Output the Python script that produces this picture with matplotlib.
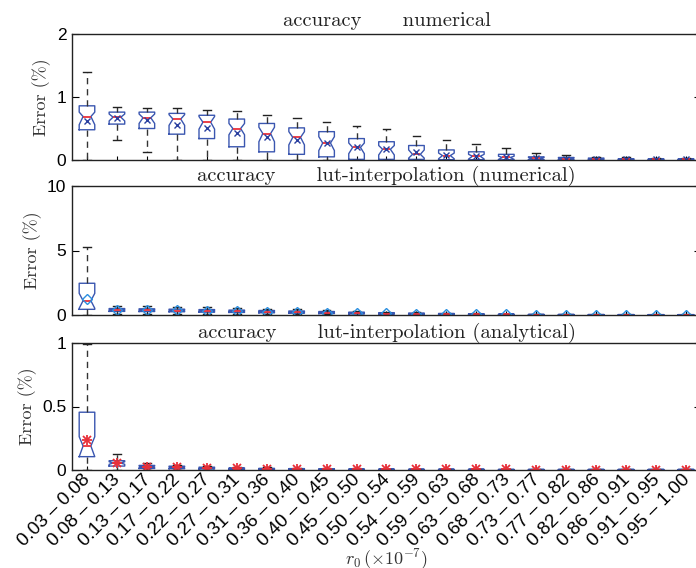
import numpy as np
import matplotlib
matplotlib.use('Agg')
import matplotlib.pyplot as plt
import matplotlib.transforms as mtrans

plt.rcParams['font.family'] = ['Liberation Sans', 'DejaVu Sans']
plt.rcParams['mathtext.fontset'] = 'cm'

# r0 bins (x 1e-7)
bins = ['0.03 – 0.08', '0.08 – 0.13', '0.13 – 0.17', '0.17 – 0.22', '0.22 – 0.27',
        '0.27 – 0.31', '0.31 – 0.36', '0.36 – 0.40', '0.40 – 0.45', '0.45 – 0.50',
        '0.50 – 0.54', '0.54 – 0.59', '0.59 – 0.63', '0.63 – 0.68', '0.68 – 0.73',
        '0.73 – 0.77', '0.77 – 0.82', '0.82 – 0.86', '0.86 – 0.91', '0.91 – 0.95',
        '0.95 – 1.00']

#### accuracy numerical
med_num = [0.69, 0.68, 0.67, 0.65, 0.60, 0.50, 0.42, 0.36, 0.27, 0.20, 0.17,
           0.09, 0.07, 0.06, 0.04, 0.025, 0.02, 0.015, 0.01, 0.008, 0.008]
q1_num = [0.48, 0.57, 0.50, 0.41, 0.34, 0.21, 0.13, 0.09, 0.05, 0.01, 0.01,
          0.01, 0.005, 0.005, 0.003, 0.003, 0.002, 0.002, 0.001, 0.001, 0.001]
q3_num = [0.86, 0.76, 0.76, 0.74, 0.71, 0.65, 0.58, 0.51, 0.45, 0.34, 0.29,
          0.23, 0.16, 0.13, 0.09, 0.05, 0.04, 0.03, 0.02, 0.018, 0.018]
lo_num = [0.0, 0.32, 0.13, 0.0, 0.0, 0.0, 0.0, 0.0, 0.0, 0.0, 0.0,
          0.0, 0.0, 0.0, 0.0, 0.0, 0.0, 0.0, 0.0, 0.0, 0.0]
hi_num = [1.40, 0.84, 0.82, 0.82, 0.80, 0.77, 0.71, 0.66, 0.60, 0.54, 0.50,
          0.38, 0.31, 0.25, 0.19, 0.11, 0.075, 0.05, 0.04, 0.03, 0.03]
cilo_num = [0.56, 0.62, 0.58, 0.55, 0.49, 0.40, 0.29, 0.24, 0.15, 0.10, 0.08,
            0.03, 0.02, 0.015, 0.01, 0.008, 0.006, 0.005, 0.003, 0.003, 0.003]
cihi_num = [0.76, 0.73, 0.73, 0.72, 0.69, 0.58, 0.52, 0.45, 0.37, 0.27, 0.23,
            0.16, 0.11, 0.09, 0.06, 0.04, 0.03, 0.023, 0.015, 0.013, 0.013]
mean_num = [0.62, 0.67, 0.64, 0.56, 0.51, 0.43, 0.37, 0.32, 0.27, 0.21, 0.17,
            0.12, 0.08, 0.06, 0.04, 0.025, 0.02, 0.015, 0.01, 0.008, 0.008]

#### accuracy lut-interpolation (numerical)
med_lutn = [1.11, 0.38, 0.36, 0.34, 0.31, 0.28, 0.25, 0.22, 0.18, 0.14, 0.11,
            0.09, 0.07, 0.05, 0.04, 0.03, 0.03, 0.02, 0.02, 0.02, 0.02]
q1_lutn = [0.44, 0.28, 0.27, 0.25, 0.22, 0.20, 0.17, 0.14, 0.11, 0.08, 0.06,
           0.05, 0.04, 0.03, 0.02, 0.015, 0.01, 0.01, 0.01, 0.01, 0.01]
q3_lutn = [2.46, 0.50, 0.48, 0.45, 0.42, 0.38, 0.35, 0.31, 0.27, 0.22, 0.18,
           0.15, 0.12, 0.09, 0.07, 0.05, 0.045, 0.04, 0.035, 0.03, 0.03]
lo_lutn = [0.0, 0.10, 0.10, 0.09, 0.08, 0.07, 0.06, 0.05, 0.04, 0.03, 0.02,
           0.02, 0.01, 0.01, 0.01, 0.0, 0.0, 0.0, 0.0, 0.0, 0.0]
hi_lutn = [5.3, 0.70, 0.68, 0.64, 0.60, 0.55, 0.50, 0.45, 0.40, 0.33, 0.27,
           0.22, 0.18, 0.14, 0.11, 0.08, 0.07, 0.06, 0.05, 0.05, 0.05]
cilo_lutn = [0.52, 0.34, 0.32, 0.30, 0.27, 0.25, 0.22, 0.19, 0.15, 0.12, 0.09,
             0.07, 0.06, 0.04, 0.03, 0.025, 0.02, 0.015, 0.015, 0.015, 0.015]
cihi_lutn = [1.68, 0.42, 0.40, 0.38, 0.35, 0.31, 0.28, 0.25, 0.21, 0.17, 0.13,
             0.11, 0.09, 0.065, 0.05, 0.038, 0.037, 0.028, 0.025, 0.025, 0.025]
mean_lutn = [1.22, 0.39, 0.37, 0.35, 0.32, 0.29, 0.26, 0.22, 0.19, 0.15, 0.12,
             0.09, 0.07, 0.05, 0.04, 0.03, 0.03, 0.02, 0.02, 0.02, 0.02]

#### accuracy lut-interpolation (analytical)
med_luta = [0.189, 0.055, 0.025, 0.020, 0.015, 0.010, 0.008, 0.007, 0.006, 0.005, 0.005,
            0.004, 0.004, 0.004, 0.003, 0.003, 0.003, 0.003, 0.003, 0.003, 0.003]
q1_luta = [0.105, 0.031, 0.012, 0.010, 0.008, 0.005, 0.004, 0.003, 0.003, 0.002, 0.002,
           0.002, 0.002, 0.002, 0.001, 0.001, 0.001, 0.001, 0.001, 0.001, 0.001]
q3_luta = [0.455, 0.073, 0.036, 0.030, 0.022, 0.016, 0.013, 0.011, 0.009, 0.008, 0.007,
           0.006, 0.006, 0.006, 0.005, 0.005, 0.005, 0.005, 0.005, 0.005, 0.005]
lo_luta = [0.0] * 21
hi_luta = [0.99, 0.126, 0.055, 0.042, 0.032, 0.024, 0.020, 0.017, 0.014, 0.012, 0.011,
           0.010, 0.009, 0.009, 0.008, 0.008, 0.008, 0.008, 0.008, 0.008, 0.008]
cilo_luta = [0.105, 0.045, 0.018, 0.015, 0.011, 0.007, 0.006, 0.005, 0.0045, 0.0035, 0.0035,
             0.003, 0.003, 0.003, 0.002, 0.002, 0.002, 0.002, 0.002, 0.002, 0.002]
cihi_luta = [0.262, 0.065, 0.031, 0.025, 0.019, 0.013, 0.010, 0.009, 0.0075, 0.0065, 0.006,
             0.005, 0.005, 0.005, 0.004, 0.004, 0.004, 0.004, 0.004, 0.004, 0.004]
mean_luta = [0.236, 0.058, 0.027, 0.022, 0.016, 0.012, 0.009, 0.008, 0.007, 0.006, 0.005,
             0.005, 0.004, 0.004, 0.004, 0.003, 0.003, 0.003, 0.003, 0.003, 0.003]

blue = '#3a56b0'
red = '#e8303a'
lightblue = '#2b8fe0'


def make_stats(med, q1, q3, lo, hi, cilo, cihi, mean):
    stats = []
    for i in range(len(med)):
        stats.append(dict(med=med[i], q1=q1[i], q3=q3[i], whislo=lo[i], whishi=hi[i],
                          cilo=cilo[i], cihi=cihi[i], mean=mean[i], fliers=[]))
    return stats


fig = plt.figure(figsize=(6.96, 5.68), dpi=100)

W = 696.0
H = 568.0
left = 72 / W
width = (701 - 72) / W
rows = [(34, 160), (186, 315), (343, 470)]

panels = [
    (make_stats(med_num, q1_num, q3_num, lo_num, hi_num, cilo_num, cihi_num, mean_num),
     'accuracy' + ' ' * 6 + 'numerical', (0, 2), [0, 1, 2], ['0', '1', '2'],
     dict(marker='x', markeredgecolor='#2a3f9f', markerfacecolor='none', markersize=5,
          markeredgewidth=1.0), 5.5),
    (make_stats(med_lutn, q1_lutn, q3_lutn, lo_lutn, hi_lutn, cilo_lutn, cihi_lutn, mean_lutn),
     'accuracy' + ' ' * 6 + 'lut-interpolation (numerical)', (0, 10), [0, 5, 10], ['0', '5', '10'],
     dict(marker='D', markeredgecolor=lightblue, markerfacecolor='none', markersize=5,
          markeredgewidth=1.0), 1.5),
    (make_stats(med_luta, q1_luta, q3_luta, lo_luta, hi_luta, cilo_luta, cihi_luta, mean_luta),
     'accuracy' + ' ' * 6 + 'lut-interpolation (analytical)', (0, 1), [0, 0.5, 1], ['0', '0.5', '1'],
     dict(marker='x', markeredgecolor=red, markerfacecolor='none', markersize=6,
          markeredgewidth=1.3), 2.0),
]

pos = np.arange(1, len(bins) + 1)
axes = []
for k, (stats, title, ylim, yt, ytl, mprops, tpad) in enumerate(panels):
    top, bot = rows[k]
    ax = fig.add_axes([left, 1 - bot / H, width, (bot - top) / H])
    ax.bxp(stats, positions=pos, widths=0.52, shownotches=True, showmeans=True,
           showfliers=False, manage_ticks=False,
           boxprops=dict(color=blue, linewidth=1.0),
           medianprops=dict(color=red, linewidth=1.3),
           whiskerprops=dict(color='#333333', linestyle=(0, (4.5, 3.5)), linewidth=1.0),
           capprops=dict(color='#222222', linewidth=1.0),
           meanprops=mprops)
    if k == 2:
        # asterisk: add the '+' arms on top of the 'x'
        ax.plot(pos, mean_luta, linestyle='none', marker='+', markersize=7,
                markeredgewidth=1.3, color=red)
    ax.set_xlim(0.5, len(bins) + 0.5)
    ax.set_ylim(*ylim)
    ax.set_yticks(yt)
    ax.set_yticklabels(ytl, fontsize=12.5)
    ax.tick_params(axis='y', direction='in', right=True, length=5, pad=4)
    ax.tick_params(axis='x', direction='in', length=3)
    ax.set_xticks(pos)
    if k < 2:
        ax.set_xticklabels([])
    else:
        ax.set_xticklabels(bins, rotation=45, ha='right', va='top',
                           rotation_mode='anchor', fontsize=13.5)
        ax.tick_params(axis='x', pad=3)
        shift = mtrans.ScaledTranslation(-5 / 100, 3 / 100, fig.dpi_scale_trans)
        for lbl in ax.get_xticklabels():
            lbl.set_transform(lbl.get_transform() + shift)
    for sp in ax.spines.values():
        sp.set_linewidth(1.0)
        sp.set_color('#222222')
    ax.set_title(title, fontfamily='cmr10', fontsize=14.8, pad=tpad, color='#222222')
    ax.set_ylabel('Error (%)', fontfamily='cmr10', fontsize=13, labelpad=4, color='#333333')
    axes.append(ax)

fig.text((72 + 701) / 2 / W, 1 - 559 / H, r'$r_0\,(\times 10^{-7})$', fontsize=13,
         ha='center', va='center', color='#333333')

fig.savefig('out.png', dpi=100)
